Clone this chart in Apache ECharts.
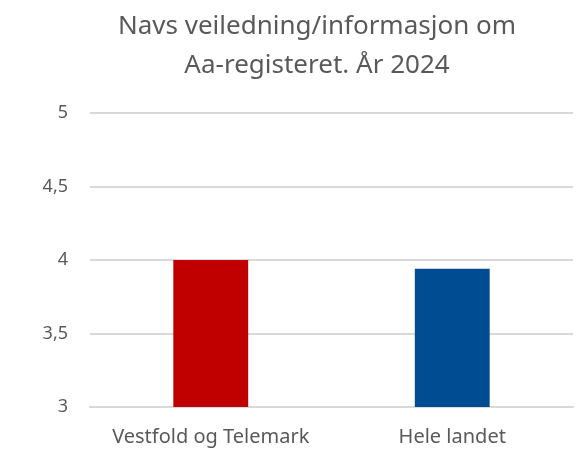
<!DOCTYPE html>
<html>
<head>
<meta charset="utf-8">
<script src="https://cdn.jsdelivr.net/npm/echarts@6/dist/echarts.min.js"></script>
<style>
  html, body { margin: 0; padding: 0; background: #fff; }
  #chart { width: 576px; height: 449px; }
</style>
</head>
<body>
<div id="chart"></div>
<script>
const categories = ['Vestfold og Telemark', 'Hele landet']
const values = [4.0, 3.94]
const barColors = ['#C00000', '#004C93']
const titleLines = ['Navs veiledning/informasjon om', 'Aa-registeret. År 2024']

const chart = echarts.init(document.getElementById('chart'))

const option = {
  animation: false,
  title: {
    text: titleLines.join('\n'),
    left: 312,
    top: 2,
    textAlign: 'center',
    textStyle: {
      color: '#595959',
      fontFamily: 'Noto Sans',
      fontWeight: 'normal',
      fontSize: 26,
      lineHeight: 39
    }
  },
  grid: {
    left: 90,
    right: 3,
    top: 113,
    bottom: 42
  },
  xAxis: {
    type: 'category',
    data: categories,
    axisLine: { lineStyle: { color: '#d9d9d9', width: 2 } },
    axisTick: { show: false },
    axisLabel: {
      interval: 0,
      hideOverlap: false,
      color: '#595959',
      fontFamily: 'Noto Sans',
      fontSize: 20,
      margin: 20
    }
  },
  yAxis: {
    type: 'value',
    min: 3,
    max: 5,
    interval: 0.5,
    axisLine: { show: false },
    axisTick: { show: false },
    axisLabel: {
      color: '#595959',
      fontFamily: 'Noto Sans',
      fontSize: 18,
      margin: 22,
      formatter: v => String(v).replace('.', ',')
    },
    splitLine: { lineStyle: { color: '#d9d9d9', width: 2 } }
  },
  series: [
    {
      type: 'bar',
      barWidth: '31%',
      data: values.map((v, i) => ({ value: v, itemStyle: { color: barColors[i] } }))
    }
  ]
}

chart.setOption(option)
</script>
</body>
</html>
